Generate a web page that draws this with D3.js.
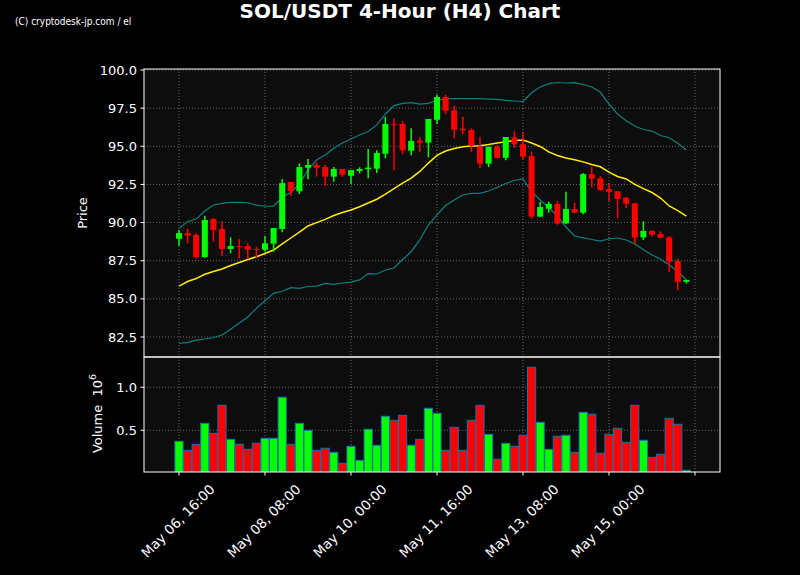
<!DOCTYPE html>
<html><head><meta charset="utf-8">
<script src="https://cdn.jsdelivr.net/npm/d3@7"></script>
<style>html,body{margin:0;padding:0;background:#000;}svg{display:block;}</style>
</head><body>
<script>
const opens  = [88.94,89.32,89.19,87.74,90.23,89.58,88.27,88.46,88.46,88.27,88.22,88.62,89.58,92.66,92.05,93.60,93.77,93.64,93.01,93.51,93.07,93.38,93.49,93.53,94.51,96.46,96.46,94.71,95.37,95.24,96.74,98.23,97.36,96.15,96.07,94.97,93.86,94.97,94.25,95.59,95.13,94.37,90.39,90.91,91.22,89.95,90.89,90.65,93.18,92.90,92.20,92.05,91.63,91.26,89.03,89.45,89.25,89.03,87.48,86.12];
const highs  = [89.51,89.60,89.30,90.45,90.30,90.10,89.03,88.92,88.64,88.42,89.12,89.64,92.84,92.66,93.88,94.17,93.93,93.77,93.64,93.51,93.44,93.62,94.80,94.74,96.94,96.83,96.66,96.18,95.59,96.79,98.38,98.38,97.69,96.94,96.18,95.59,94.97,95.08,95.61,95.98,95.94,94.65,91.37,91.37,91.43,92.02,91.30,93.25,93.66,93.05,92.61,92.05,91.68,91.30,90.08,89.49,89.43,89.10,87.63,86.24];
const lows   = [88.48,88.64,87.63,87.70,88.75,87.81,87.99,87.66,87.61,87.66,88.09,88.09,89.36,91.76,91.87,92.84,93.01,92.40,92.68,93.01,92.53,93.23,92.90,93.25,94.21,93.43,94.48,94.41,94.61,94.28,96.46,97.10,95.52,95.79,94.63,93.58,93.64,94.21,94.08,94.89,94.17,90.25,90.39,90.65,89.86,89.91,90.61,90.54,92.31,92.09,91.41,90.28,90.94,88.60,88.86,89.08,88.97,86.74,85.56,86.00];
const closes = [89.32,89.14,87.74,90.17,89.51,88.27,88.46,88.40,88.22,88.22,88.64,89.64,92.59,92.05,93.64,93.77,93.60,93.01,93.51,93.14,93.44,93.51,93.60,94.56,96.46,96.42,94.74,95.35,95.24,96.79,98.23,97.33,96.09,96.05,95.04,93.86,94.97,94.25,95.61,95.13,94.32,90.39,91.02,91.22,89.93,90.89,90.65,93.18,92.88,92.13,92.02,91.54,91.24,89.01,89.45,89.21,89.01,87.44,86.12,86.24];
const volumes = [0.372,0.267,0.337,0.581,0.465,0.791,0.395,0.337,0.279,0.349,0.407,0.407,0.884,0.337,0.581,0.500,0.267,0.291,0.244,0.116,0.314,0.151,0.512,0.326,0.663,0.616,0.674,0.326,0.395,0.756,0.698,0.267,0.535,0.267,0.616,0.791,0.453,0.163,0.349,0.314,0.442,1.233,0.593,0.279,0.430,0.442,0.244,0.709,0.686,0.233,0.453,0.523,0.360,0.791,0.384,0.186,0.221,0.640,0.570,0.035];
const smaLine   = [85.84,86.14,86.33,86.61,86.79,86.96,87.19,87.38,87.58,87.76,87.97,88.20,88.60,88.99,89.38,89.78,90.00,90.21,90.46,90.66,90.82,91.04,91.28,91.53,91.87,92.23,92.59,92.92,93.35,93.90,94.40,94.69,94.85,94.97,95.02,95.04,95.12,95.22,95.30,95.38,95.41,95.22,94.99,94.63,94.40,94.23,94.12,93.98,93.81,93.66,93.31,93.02,92.86,92.50,92.23,91.97,91.61,91.09,90.79,90.43];
const upperBand = [89.62,90.07,90.23,90.76,91.15,91.26,91.32,91.33,91.30,91.15,91.07,91.07,91.66,91.97,92.53,93.45,94.10,94.43,94.87,95.22,95.48,95.74,95.97,96.40,97.12,97.67,97.81,97.86,97.77,97.81,98.03,98.10,98.12,98.12,98.12,98.12,98.09,98.07,98.01,97.97,97.92,98.51,98.89,99.11,99.18,99.15,99.17,99.05,98.89,98.54,97.77,97.12,96.68,96.33,96.10,96.00,95.71,95.56,95.20,94.76];
const lowerBand = [82.09,82.13,82.30,82.37,82.47,82.63,83.01,83.42,83.81,84.38,84.88,85.36,85.50,85.74,85.69,85.81,85.84,86.02,85.95,86.04,86.10,86.24,86.66,86.63,86.89,87.02,87.58,88.09,88.86,89.84,90.50,91.12,91.48,91.81,91.92,91.92,92.07,92.30,92.56,92.76,92.86,92.02,91.48,90.99,90.43,89.71,89.12,89.00,88.89,88.79,88.94,88.99,88.86,88.60,88.24,87.87,87.61,87.22,86.79,86.24];
const xTickIdx = [0,10,20,30,40,50,60];
const xTickLabels = ["May 06, 16:00","May 08, 08:00","May 10, 00:00","May 11, 16:00","May 13, 08:00","May 15, 00:00",""];
const priceTicks = [82.5,85.0,87.5,90.0,92.5,95.0,97.5,100.0];
const volTicks = [0.5,1.0];

const W=800,H=575;
const L=144,R=720,PT=69,PB=357,VT=357,VB=472;
const svg=d3.select("body").append("svg").attr("width",W).attr("height",H).style("background","#000");
const font="DejaVu Sans, sans-serif";

const x=d3.scaleLinear().domain([-4.07,62.91]).range([L,R]);
const y=d3.scaleLinear().domain([81.19,100.066]).range([PB,PT]);
const yv=d3.scaleLinear().domain([0.015,1.352]).range([VB,VT]);
const step=x(1)-x(0);
const UP="#00ff00",DN="#ff0000";

svg.append("rect").attr("x",L).attr("y",PT).attr("width",R-L).attr("height",PB-PT).attr("fill","#0d0d0d");
svg.append("rect").attr("x",L).attr("y",VT).attr("width",R-L).attr("height",VB-VT).attr("fill","#0d0d0d");

const defs=svg.append("defs");
defs.append("clipPath").attr("id","cp").append("rect").attr("x",L).attr("y",PT).attr("width",R-L).attr("height",PB-PT);
defs.append("clipPath").attr("id","cv").append("rect").attr("x",L).attr("y",VT).attr("width",R-L).attr("height",VB-VT);

const gridStyle=s=>s.attr("stroke","#a0a0a0").attr("stroke-width",0.8).attr("stroke-dasharray","1,2").attr("opacity",0.8);
const gp=svg.append("g");
priceTicks.forEach(t=>gridStyle(gp.append("line").attr("x1",L).attr("x2",R).attr("y1",y(t)).attr("y2",y(t))));
xTickIdx.forEach(t=>gridStyle(gp.append("line").attr("x1",x(t)).attr("x2",x(t)).attr("y1",PT).attr("y2",PB)));
volTicks.forEach(t=>gridStyle(gp.append("line").attr("x1",L).attr("x2",R).attr("y1",yv(t)).attr("y2",yv(t))));
xTickIdx.forEach(t=>gridStyle(gp.append("line").attr("x1",x(t)).attr("x2",x(t)).attr("y1",VT).attr("y2",VB)));

const idx=d3.range(closes.length);
const lineGen=arr=>d3.line().x(i=>x(i)).y(i=>y(arr[i]))(idx);
const gl=svg.append("g").attr("clip-path","url(#cp)");
gl.append("path").attr("d",lineGen(upperBand)).attr("fill","none").attr("stroke","#0e8080").attr("stroke-width",1.2);
gl.append("path").attr("d",lineGen(lowerBand)).attr("fill","none").attr("stroke","#0e8080").attr("stroke-width",1.2);
gl.append("path").attr("d",lineGen(smaLine)).attr("fill","none").attr("stroke","#ffee00").attr("stroke-width",1.5);

const bw=step*0.7;
const gc=svg.append("g").attr("clip-path","url(#cp)");
idx.forEach(i=>{
  const c=closes[i]>=opens[i]?UP:DN;
  gc.append("line").attr("x1",x(i)).attr("x2",x(i)).attr("y1",y(highs[i])).attr("y2",y(lows[i])).attr("stroke",c).attr("stroke-width",1.5);
  const top=y(Math.max(opens[i],closes[i])),bot=y(Math.min(opens[i],closes[i]));
  gc.append("rect").attr("x",x(i)-bw/2).attr("y",top).attr("width",bw).attr("height",Math.max(bot-top,0.8)).attr("fill",c);
});

const vw=step*0.95;
const gv=svg.append("g").attr("clip-path","url(#cv)");
idx.forEach(i=>{
  const c=closes[i]>=opens[i]?UP:DN;
  gv.append("rect").attr("x",x(i)-vw/2).attr("y",yv(volumes[i])).attr("width",vw).attr("height",yv(0)-yv(volumes[i]))
    .attr("fill",c).attr("stroke","#1f6fa8").attr("stroke-width",1);
});

const sp=svg.append("g").attr("fill","none").attr("stroke","#fff").attr("stroke-width",1);
sp.append("rect").attr("x",L).attr("y",PT).attr("width",R-L).attr("height",PB-PT);
sp.append("rect").attr("x",L).attr("y",VT).attr("width",R-L).attr("height",VB-VT);

const tk=svg.append("g");
priceTicks.forEach(t=>{
  tk.append("line").attr("x1",L-3.5).attr("x2",L).attr("y1",y(t)).attr("y2",y(t)).attr("stroke","#fff");
  tk.append("text").attr("x",L-7).attr("y",y(t)).attr("dy","0.35em").attr("text-anchor","end").attr("fill","#fff")
    .attr("font-family",font).attr("font-size",13).text(t.toFixed(1));
});
volTicks.forEach(t=>{
  tk.append("line").attr("x1",L-3.5).attr("x2",L).attr("y1",yv(t)).attr("y2",yv(t)).attr("stroke","#fff");
  tk.append("text").attr("x",L-7).attr("y",yv(t)).attr("dy","0.35em").attr("text-anchor","end").attr("fill","#fff")
    .attr("font-family",font).attr("font-size",13).text(t.toFixed(1));
});
xTickIdx.forEach((t,k)=>{
  tk.append("line").attr("x1",x(t)).attr("x2",x(t)).attr("y1",VB).attr("y2",VB+3.5).attr("stroke","#fff");
  if(xTickLabels[k]) tk.append("text").attr("transform",`translate(${x(t)-1},${VB+49}) rotate(-45)`)
    .attr("text-anchor","middle").attr("dy","0.35em").attr("fill","#fff").attr("font-family",font).attr("font-size",13.5).text(xTickLabels[k]);
});

svg.append("text").attr("transform",`translate(87,${(PT+PB)/2}) rotate(-90)`).attr("text-anchor","middle")
  .attr("fill","#fff").attr("font-family",font).attr("font-size",13).text("Price");
const vl=svg.append("text").attr("transform",`translate(102,${(VT+VB)/2 - 1}) rotate(-90)`).attr("text-anchor","middle")
  .attr("fill","#fff").attr("font-family",font).attr("font-size",13);
vl.append("tspan").text("Volume\u00a0\u00a010");
vl.append("tspan").attr("dy",-6).attr("font-size",9.5).text("6");

svg.append("text").attr("x",400).attr("y",18).attr("text-anchor","middle").attr("fill","#fff")
  .attr("font-family",font).attr("font-weight","bold").attr("font-size",20).text("SOL/USDT 4-Hour (H4) Chart");
svg.append("text").attr("x",15).attr("y",25).attr("fill","#fff")
  .attr("font-family","DejaVu Sans Condensed, Liberation Sans Narrow, sans-serif").attr("font-stretch","condensed").attr("font-size",10).text("(C) cryptodesk-jp.com / el");
</script>
</body></html>
